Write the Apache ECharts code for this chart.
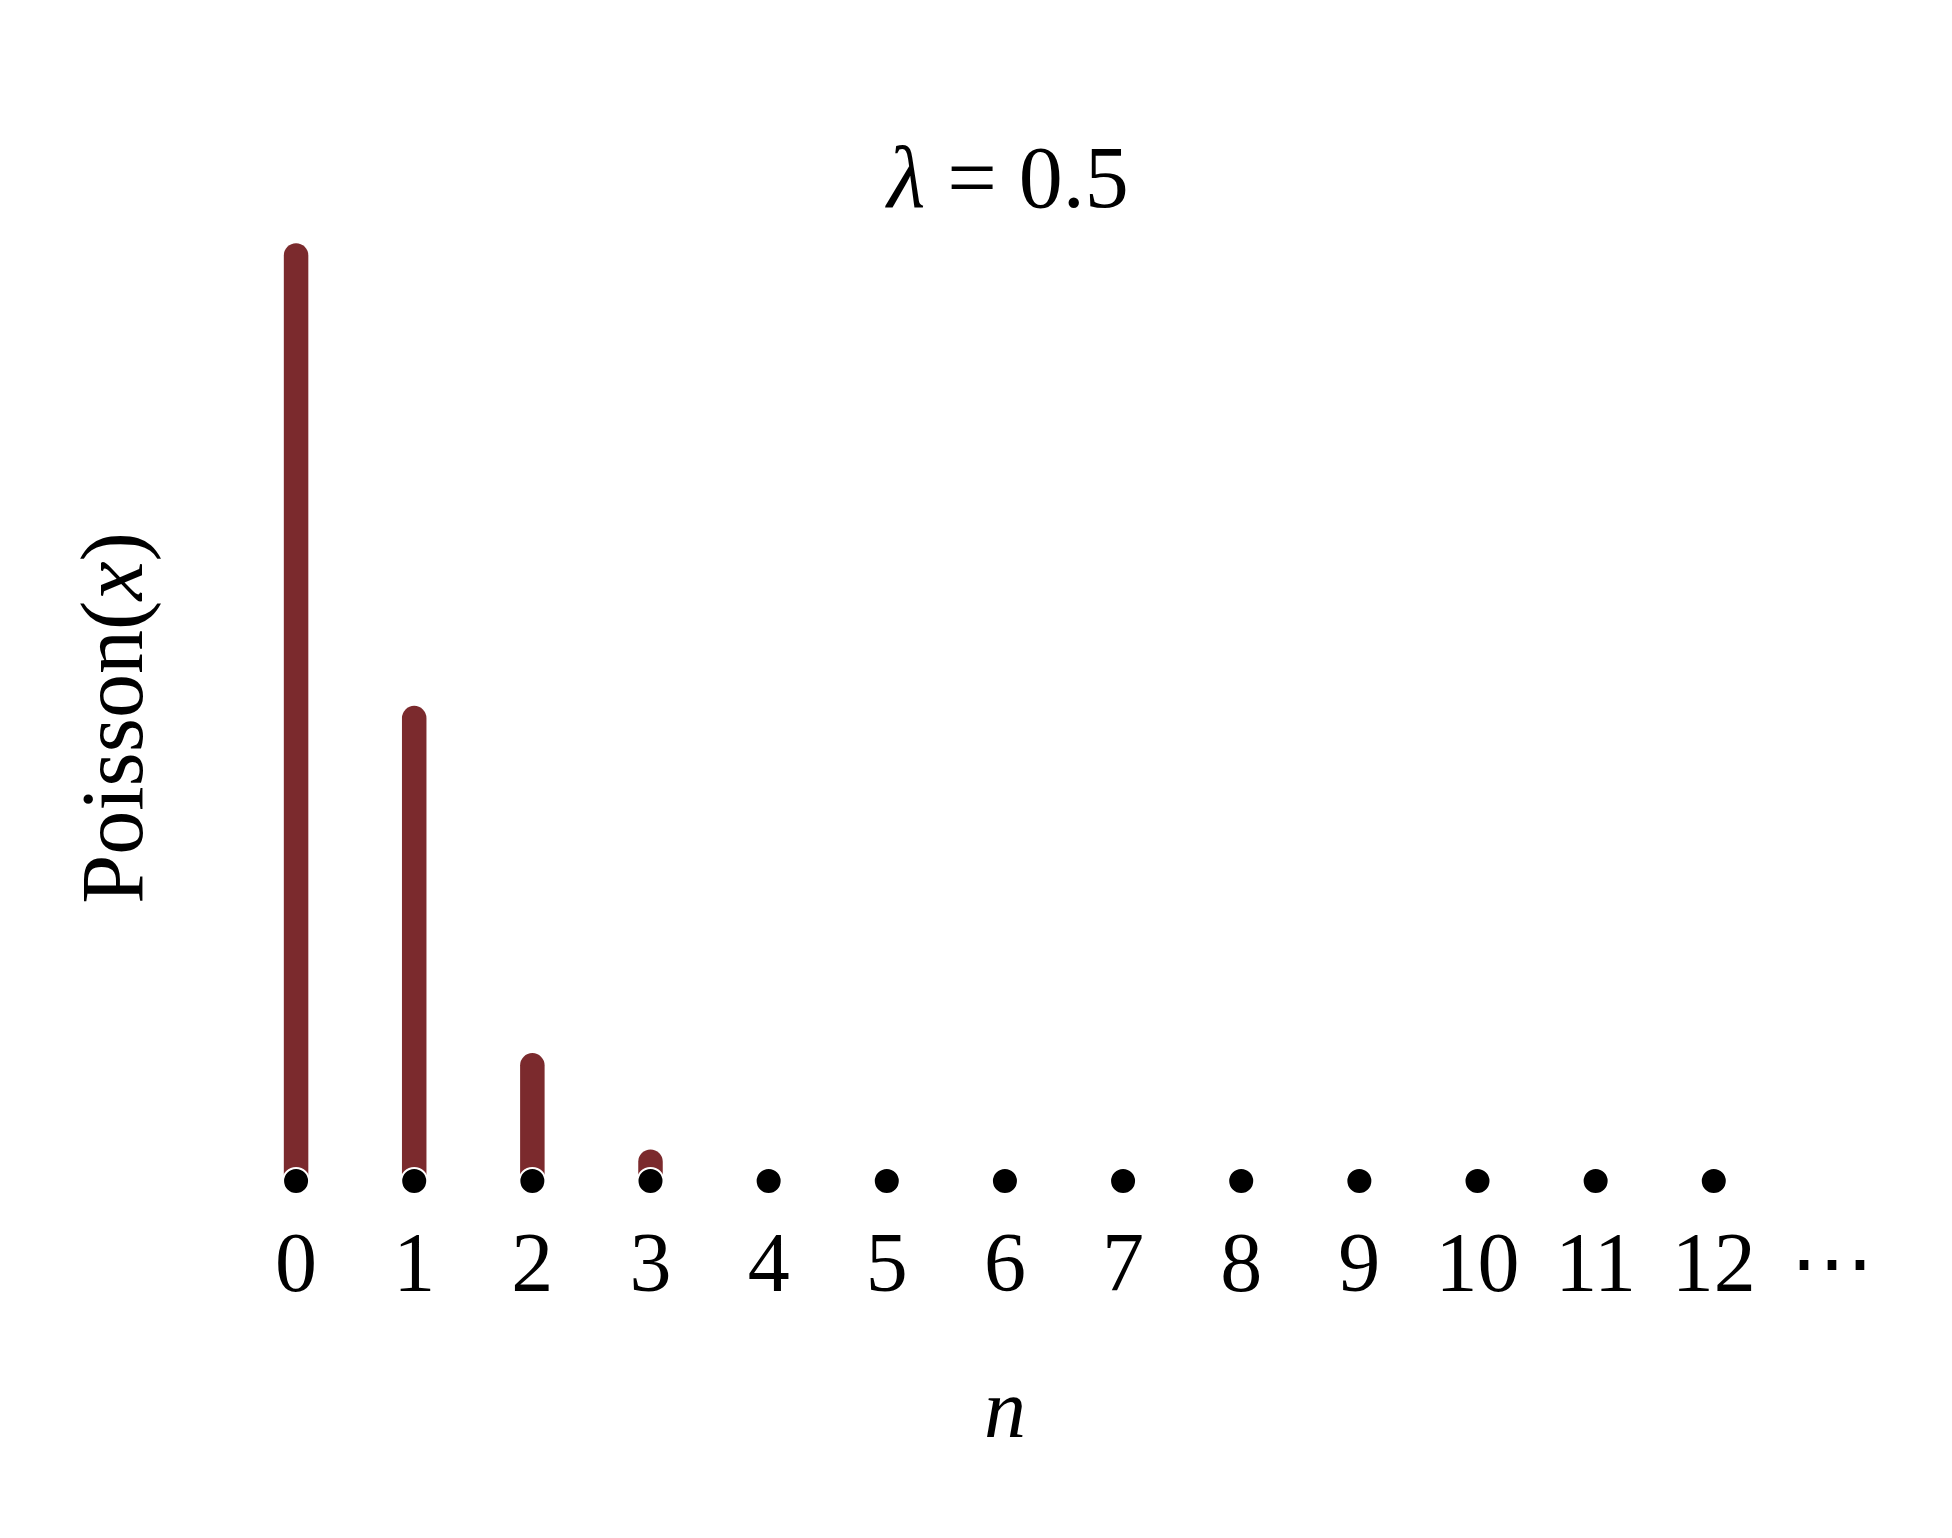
<!DOCTYPE html>
<html><head><meta charset="utf-8">
<script src="https://cdn.jsdelivr.net/npm/echarts@6/dist/echarts.min.js"></script>
<style>html,body{margin:0;padding:0;background:#fff}#c{width:1952px;height:1538px}</style>
</head><body><div id="c"></div>
<script>
// categories (n) and tick labels
const categories = ['0','1','2','3','4','5','6','7','8','9','10','11','12','⋯'];
const nValues = [0,1,2,3,4,5,6,7,8,9,10,11,12];
// Poisson(x) values (lambda = 0.5)
const probabilities = [0.6065, 0.3033, 0.0758, 0.0126, 0, 0, 0, 0, 0, 0, 0, 0, 0];
const titleText = '{i|λ} = 0.5';
const xName = 'n';
const yName = 'Poisson({i|x})';

const SERIF = "'Liberation Serif', 'DejaVu Serif', serif";
const BAR = '#7b2a2d';
const chart = echarts.init(document.getElementById('c'), null, {renderer: 'canvas'});

const barData = nValues.map((n, i) => [n, probabilities[i]]);
const dotData = nValues.map(n => [n, 0]);

chart.setOption({
  backgroundColor: '#ffffff',
  animation: false,
  title: {
    text: titleText,
    left: 1003, top: 135, textAlign: 'center',
    textStyle: {fontFamily: SERIF, fontSize: 88, fontWeight: 'normal', color: '#000',
      rich: {i: {fontFamily: SERIF, fontSize: 88, fontStyle: 'italic', color: '#000'}}}
  },
  grid: {left: 237, right: 61, top: 189, bottom: 357},
  xAxis: {
    type: 'category', data: categories, boundaryGap: true,
    axisLine: {show: false}, axisTick: {show: false}, splitLine: {show: false},
    axisLabel: {interval: 0, margin: 46, fontFamily: SERIF, fontSize: 84, color: '#000'},
    name: xName, nameLocation: 'middle', nameGap: 192,
    nameTextStyle: {fontFamily: SERIF, fontSize: 84, fontStyle: 'italic', color: '#000', padding: [0, 118, 0, 0]}
  },
  yAxis: {
    type: 'value', min: 0, max: 0.65,
    axisLine: {show: false}, axisTick: {show: false}, splitLine: {show: false}, axisLabel: {show: false},
    name: yName, nameLocation: 'middle', nameRotate: 90, nameGap: 74,
    nameTextStyle: {fontFamily: SERIF, fontSize: 88, color: '#000', padding: [0, 66, 0, 0],
      rich: {i: {fontFamily: SERIF, fontSize: 88, fontStyle: 'italic', color: '#000'}}}
  },
  series: [
    {
      type: 'custom', z: 2,
      data: barData,
      encode: {x: 0, y: 1},
      renderItem: function (params, api) {
        const v = api.value(1);
        if (!(v > 0)) return null;
        const p0 = api.coord([api.value(0), 0]);
        const p1 = api.coord([api.value(0), v]);
        const w = 24.5, r = w / 2;
        return {
          type: 'rect',
          shape: {x: p0[0] - r, y: p1[1] - r, width: w, height: p0[1] - p1[1] + r, r: [r, r, 0, 0]},
          style: {fill: BAR}
        };
      }
    },
    {
      type: 'scatter', z: 5,
      data: dotData,
      symbol: 'circle', symbolSize: 26,
      itemStyle: {color: '#000', opacity: 1, borderColor: '#fff', borderWidth: 2}
    }
  ]
});
</script>
</body></html>
